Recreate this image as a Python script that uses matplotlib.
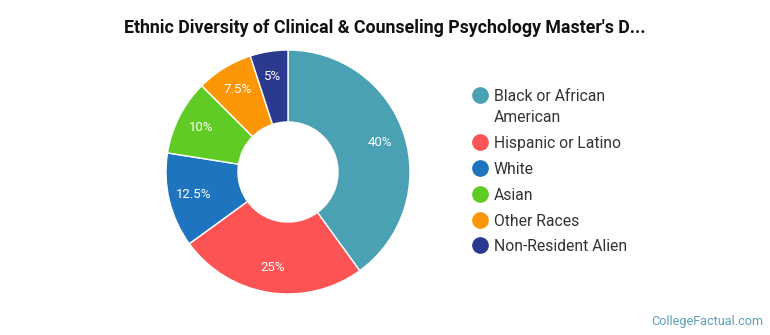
import matplotlib
matplotlib.use("Agg")
import matplotlib.pyplot as plt
from matplotlib.lines import Line2D
import numpy as np

plt.rcParams['font.family'] = ['Roboto', 'DejaVu Sans']

categories = ["Black or African\nAmerican", "Hispanic or Latino", "White", "Asian",
              "Other Races", "Non-Resident Alien"]
values = [40, 25, 12.5, 10, 7.5, 5]
labels = ["40%", "25%", "12.5%", "10%", "7.5%", "5%"]
colors = ["#4aa1b4", "#fc5355", "#1f74bf", "#5fcb24", "#fb9606", "#2b3a8e"]

fig = plt.figure(figsize=(7.7, 3.35), dpi=100)
ax = fig.add_axes([166/770, 1 - 294/335, 244/770, 244/335])
wedges, _ = ax.pie(values, colors=colors, startangle=90, counterclock=False,
                   radius=1.0, wedgeprops=dict(width=0.59, edgecolor="white", linewidth=1))
for w, lab in zip(wedges, labels):
    th = np.deg2rad((w.theta1 + w.theta2) / 2)
    r = 0.795
    ax.text(r*np.cos(th), r*np.sin(th), lab, ha="center", va="center",
            color="white", fontsize=9.5)
ax.set_xlim(-1, 1); ax.set_ylim(-1, 1)
ax.set_aspect("equal")
ax.axis("off")

fig.text(385/770, 1 - 28/335, "Ethnic Diversity of Clinical & Counseling Psychology Master's D...",
         ha="center", va="center", fontsize=12.8, fontweight="bold", color="#111111")

# legend
ys = [95, 142, 168, 194, 220, 245]
for y, cat, col in zip(ys, categories, colors):
    fig.add_artist(Line2D([480/770], [1 - y/335], marker="o", markersize=11,
                          color=col, transform=fig.transFigure, linestyle="none"))
    for k, line in enumerate(cat.split("\n")):
        fig.text(494/770, 1 - (y + 21*k)/335, line, ha="left", va="center_baseline",
                 fontsize=11.35, color="#333333")

fig.text(763/770, 1 - 321/335, "CollegeFactual.com", ha="right", va="center",
         fontsize=9.1, color="#5b9fb8")

fig.savefig("out.png", dpi=100)
